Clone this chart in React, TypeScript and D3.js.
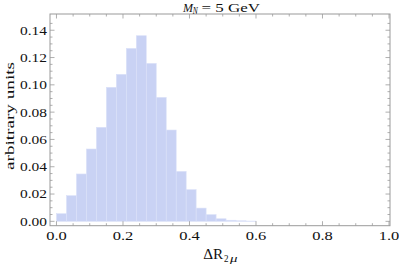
import * as d3 from "d3";

// histogram bins (left edge) and heights
const binWidth = 0.03;
const binStarts = [
  0.0, 0.03, 0.06, 0.09, 0.12, 0.15, 0.18, 0.21, 0.24, 0.27,
  0.3, 0.33, 0.36, 0.39, 0.42, 0.45, 0.48, 0.51, 0.54, 0.57,
];
const binValues = [
  0.0056, 0.0188, 0.0347, 0.053, 0.0689, 0.0982, 0.1077, 0.1267, 0.136, 0.1157,
  0.0908, 0.0669, 0.0366, 0.0232, 0.0097, 0.0049, 0.0019, 0.0008, 0.0004, 0.0002,
];
const xTicks = [0, 0.2, 0.4, 0.6, 0.8, 1.0];
const yTicks = [0, 0.02, 0.04, 0.06, 0.08, 0.1, 0.12, 0.14];

const width = 399;
const height = 266;
const left = 50;
const right = 390;
const top = 14;
const bottom = 225.7;
const font = "'Liberation Serif', 'Times New Roman', serif";
const ink = "#111";

export default function App() {
  const x = d3.scaleLinear([-0.0195, 1.003], [left, right]);
  const y = d3.scaleLinear([-0.0032, 0.1519], [bottom, top]);

  const xMinor = d3.range(0, 1.0001, 0.05);
  const yMinor = d3.range(0, 0.15, 0.005);
  const frame = "#9a9a9a";

  return (
    <svg
      width={width}
      height={height}
      style={{ position: "absolute", left: 0, top: 0, background: "white" }}
      fontFamily={font}
    >
      {/* bars */}
      <g>
        {binStarts.map((b, i) => (
          <rect
            key={i}
            x={x(b)}
            y={y(binValues[i])}
            width={x(b + binWidth) - x(b)}
            height={y(0) - y(binValues[i])}
            fill="#c9d2f4"
            stroke="#dbe1f8"
            strokeWidth={0.6}
          />
        ))}
      </g>

      {/* frame */}
      <rect
        x={left}
        y={top}
        width={right - left}
        height={bottom - top}
        fill="none"
        stroke={frame}
        strokeWidth={1}
      />

      {/* ticks on all four sides */}
      <g stroke={frame} strokeWidth={0.8}>
        {xMinor.map((t, i) => {
          const major = Math.abs(t / 0.2 - Math.round(t / 0.2)) < 1e-6;
          const len = major ? 4.5 : 2.5;
          return (
            <g key={i}>
              <line x1={x(t)} x2={x(t)} y1={bottom} y2={bottom - len} />
              <line x1={x(t)} x2={x(t)} y1={top} y2={top + len} />
            </g>
          );
        })}
        {yMinor.map((t, i) => {
          const major = Math.abs(t / 0.02 - Math.round(t / 0.02)) < 1e-6;
          const len = major ? 4.5 : 2.5;
          return (
            <g key={i}>
              <line x1={left} x2={left + len} y1={y(t)} y2={y(t)} />
              <line x1={right} x2={right - len} y1={y(t)} y2={y(t)} />
            </g>
          );
        })}
      </g>

      {/* tick labels (the reference glyphs are drawn wide) */}
      <g fontSize={13.5} fill={ink}>
        {xTicks.map((t) => (
          <text
            key={t}
            x={x(t) - 10.3}
            y={239.5}
            textLength={20.6}
            lengthAdjust="spacingAndGlyphs"
          >
            {t.toFixed(1)}
          </text>
        ))}
        {yTicks.map((t) => (
          <text
            key={t}
            x={20}
            y={y(t) + 4.4}
            textLength={27}
            lengthAdjust="spacingAndGlyphs"
          >
            {t.toFixed(2)}
          </text>
        ))}
      </g>

      {/* title: M_N = 5 GeV */}
      <g fill={ink}>
        <text x={183} y={11.5} fontSize={13} fontStyle="italic" textLength={10} lengthAdjust="spacingAndGlyphs">
          M
        </text>
        <text x={192.8} y={13.5} fontSize={9.5} fontStyle="italic" textLength={5} lengthAdjust="spacingAndGlyphs">
          N
        </text>
        <text x={201.5} y={11.5} fontSize={13} textLength={58.5} lengthAdjust="spacingAndGlyphs">
          = 5 GeV
        </text>
      </g>

      {/* x label: ΔR_{2μ} */}
      <g fill={ink}>
        <text x={203.3} y={259} fontSize={14} textLength={20} lengthAdjust="spacingAndGlyphs">
          ΔR
        </text>
        <text x={224} y={262} fontSize={10} textLength={4.5} lengthAdjust="spacingAndGlyphs">
          2
        </text>
        <text x={230} y={262} fontSize={10} fontStyle="italic" textLength={7.5} lengthAdjust="spacingAndGlyphs">
          μ
        </text>
      </g>

      {/* y label */}
      <text
        transform={`translate(14,116) rotate(-90)`}
        x={-54}
        fontSize={13}
        fill={ink}
        textLength={108}
        lengthAdjust="spacingAndGlyphs"
      >
        arbitrary units
      </text>
    </svg>
  );
}
